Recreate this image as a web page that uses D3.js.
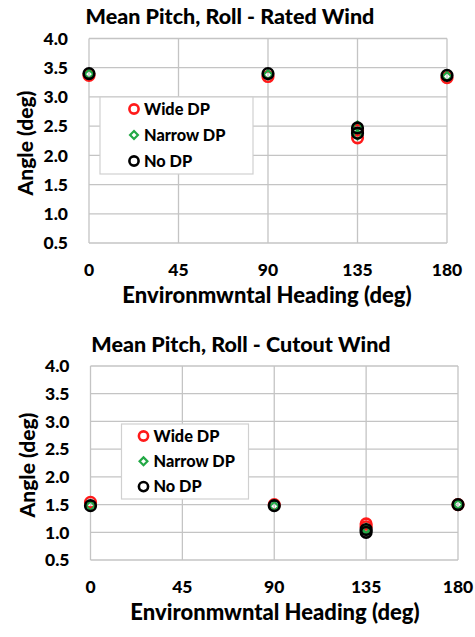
<!DOCTYPE html>
<html>
<head>
<meta charset="utf-8">
<script src="https://cdn.jsdelivr.net/npm/d3@7"></script>
<style>
  body { margin: 0; background: #fff; }
  svg text { font-family: Lato, "Open Sans", sans-serif; font-weight: 900; fill: #000; }
</style>
</head>
<body>
<svg id="chart" width="475" height="637"></svg>
<script>
// headings (deg) - 135 carries two results per case
const headings = [0, 90, 135, 135, 180];
const xTicks = [0, 45, 90, 135, 180];
const yTicks = [0.5, 1.0, 1.5, 2.0, 2.5, 3.0, 3.5, 4.0];
const seriesNames = ['Wide DP', 'Narrow DP', 'No DP'];

// Rated wind
const ratedWide   = [3.37, 3.35, 2.43, 2.30, 3.33];
const ratedNarrow = [3.39, 3.38, 2.50, 2.35, 3.35];
const ratedNone   = [3.40, 3.40, 2.47, 2.38, 3.37];

// Cutout wind
const cutoutWide   = [1.54, 1.50, 1.15, 1.10, 1.50];
const cutoutNarrow = [1.48, 1.47, 1.07, 1.03, 1.50];
const cutoutNone   = [1.48, 1.48, 1.05, 1.00, 1.50];

const svg = d3.select('#chart');

const styles = {
    'Wide DP':   { shape: 'circle', color: '#ff1a1a' },
    'Narrow DP': { shape: 'diamond', color: '#22a845' },
    'No DP':     { shape: 'circle', color: '#000000' }
};

function drawMarker(g, name, x, y, r) {
    const s = styles[name];
    if (s.shape === 'circle') {
        g.append('circle')
            .attr('cx', x).attr('cy', y).attr('r', r)
            .attr('fill', 'none')
            .attr('stroke', s.color)
            .attr('stroke-width', 2.6);
    } else {
        const d = r * 0.85;
        g.append('path')
            .attr('d', `M${x},${y - d}L${x + d},${y}L${x},${y + d}L${x - d},${y}Z`)
            .attr('fill', 'none')
            .attr('stroke', s.color)
            .attr('stroke-width', 2.2);
    }
}

function drawPanel(p) {
    const g = svg.append('g');

    const x = d3.scaleLinear().domain([0, 180]).range([p.left, p.right]);
    const y = d3.scaleLinear().domain([0.5, 4.0]).range([p.bottom, p.top]);

    // gridlines
    g.selectAll('.hgrid')
        .data(yTicks)
        .enter()
        .append('line')
        .attr('x1', p.left).attr('x2', p.right)
        .attr('y1', d => y(d)).attr('y2', d => y(d))
        .attr('stroke', '#c4c4c4')
        .attr('stroke-width', 1.3);

    g.selectAll('.vgrid')
        .data(xTicks)
        .enter()
        .append('line')
        .attr('x1', d => x(d)).attr('x2', d => x(d))
        .attr('y1', p.top).attr('y2', p.bottom)
        .attr('stroke', '#c4c4c4')
        .attr('stroke-width', 1.3);

    // tick labels
    g.selectAll('.ylab')
        .data(yTicks)
        .enter()
        .append('text')
        .attr('x', p.left - 21)
        .attr('y', d => y(d))
        .attr('dy', '0.36em')
        .attr('text-anchor', 'end')
        .style('font-size', '17.5px')
        .text(d => d3.format('.1f')(d));

    g.selectAll('.xlab')
        .data(xTicks)
        .enter()
        .append('text')
        .attr('x', d => x(d))
        .attr('y', p.bottom + 33)
        .attr('text-anchor', 'middle')
        .style('font-size', '17.5px')
        .text(d => d);

    // titles
    g.append('text')
        .attr('x', p.titleX)
        .attr('y', p.titleY)
        .attr('text-anchor', 'middle')
        .style('font-size', '21.5px')
        .text(p.title);

    g.append('text')
        .attr('x', p.xTitleX)
        .attr('y', p.bottom + 59.5)
        .attr('text-anchor', 'middle')
        .style('font-size', '22px')
        .text('Environmwntal Heading (deg)');

    g.append('text')
        .attr('transform', `translate(${p.yTitleX},${p.yTitleY}) rotate(-90)`)
        .attr('text-anchor', 'middle')
        .style('font-size', '21px')
        .text('Angle (deg)');

    // legend
    const lg = g.append('g');
    lg.append('rect')
        .attr('x', p.legend.x).attr('y', p.legend.y)
        .attr('width', p.legend.w).attr('height', p.legend.h)
        .attr('fill', '#fff')
        .attr('stroke', '#d0d0d0')
        .attr('stroke-width', 1.2);

    seriesNames.forEach((name, i) => {
        const ly = p.legend.y + p.legend.first + i * p.legend.step;
        drawMarker(lg, name, p.legend.mx, ly, 4.6);
        lg.append('text')
            .attr('x', p.legend.mx + 10)
            .attr('y', ly)
            .attr('dy', '0.36em')
            .style('font-size', '16.3px')
            .text(name);
    });

    // points
    const pts = g.append('g');
    p.series.forEach((vals, i) => {
        vals.forEach((v, j) => drawMarker(pts, seriesNames[i], x(headings[j]), y(v), 5.3));
    });
}

drawPanel({
    title: 'Mean Pitch, Roll - Rated Wind',
    series: [ratedWide, ratedNarrow, ratedNone],
    left: 89, right: 447, top: 38.5, bottom: 243,
    titleX: 230, titleY: 24,
    xTitleX: 267, yTitleX: 33, yTitleY: 143,
    legend: { x: 100, y: 97, w: 153, h: 77, mx: 134, first: 12, step: 26 }
});

drawPanel({
    title: 'Mean Pitch, Roll - Cutout Wind',
    series: [cutoutWide, cutoutNarrow, cutoutNone],
    left: 90.5, right: 458, top: 366, bottom: 560,
    titleX: 241, titleY: 352,
    xTitleX: 275, yTitleX: 35, yTitleY: 465,
    legend: { x: 121.5, y: 424, w: 127, h: 75, mx: 143.5, first: 12, step: 25.3 }
});
</script>
</body>
</html>
